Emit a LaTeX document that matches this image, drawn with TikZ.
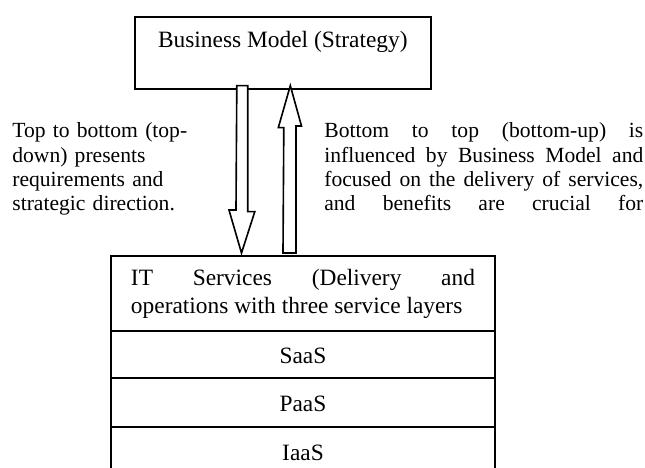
\documentclass[tikz,border=0pt]{standalone}
\usepackage{fontspec}
\setmainfont{Liberation Serif}
\usetikzlibrary{positioning,calc}
\newcommand{\pxlen}{0.5556pt}
\tikzset{
	layer/.style={draw,line width=0.9pt,minimum width=384*\pxlen,inner sep=0pt,outer sep=0pt,font=\fontsize{13}{15.5}\selectfont},
	row/.style={layer,text height=10.5pt,text depth=0pt},
	sidetext/.style={anchor=base west,inner sep=0pt,font=\fontsize{12}{13.5}\selectfont},
	hollow/.style={draw,fill=white,line width=0.9pt,line join=miter}
}
\begin{document}
\begin{tikzpicture}[x=0.5556pt,y=-0.5556pt]
\useasboundingbox (0,0) rectangle (645,468);
\clip (0,0) rectangle (645,468);
\node[draw,line width=0.9pt,minimum width=296*\pxlen,minimum height=72*\pxlen,anchor=north west](bm) at (134,16){};
\node[anchor=base,inner sep=0pt,font=\fontsize{13}{15.5}\selectfont](bmtext) at ($(bm.north)+(0,32)$){Business Model (Strategy)};
\node[layer,anchor=north west,minimum height=75*\pxlen,text width=344*\pxlen,align=justify](its) at (111,256){IT Services (Delivery and\linebreak operations with three service layers};
\node[row,below=0pt of its,minimum height=47*\pxlen](saas){SaaS};
\node[row,below=0pt of saas,minimum height=49*\pxlen](paas){PaaS};
\node[row,below=0pt of paas,minimum height=48*\pxlen](iaas){IaaS};
\node[sidetext,text width=200*\pxlen,align=left](downtext) at (12,138){Top to bottom (top-\\down) presents\\requirements and\\strategic direction.};
\node[sidetext,text width=319*\pxlen,align=justify](uptext) at (324,138){Bottom to top (bottom-up) is\linebreak influenced by Business Model and\linebreak focused on the delivery of services,\linebreak \hbox to \linewidth{and\hfil benefits\hfil are\hfil crucial\hfil for}};
\draw[hollow] ($(bm.south)+(-46,-4)$) -- ++(11,0) -- ++(0,126) -- ++(7,0) -- ($(its.north)+(-61.5,-3)$) -- ++(-12.5,-43) -- ++(7,0) -- cycle;
\draw[hollow] ($(its.north)+(-20,-3)$) -- ++(13,0) -- ++(0,-127) -- ++(5.5,0) -- ($(bm.south)+(7.5,-4)$) -- ++(-12,42) -- ++(5.5,0) -- cycle;
\end{tikzpicture}
\end{document}
